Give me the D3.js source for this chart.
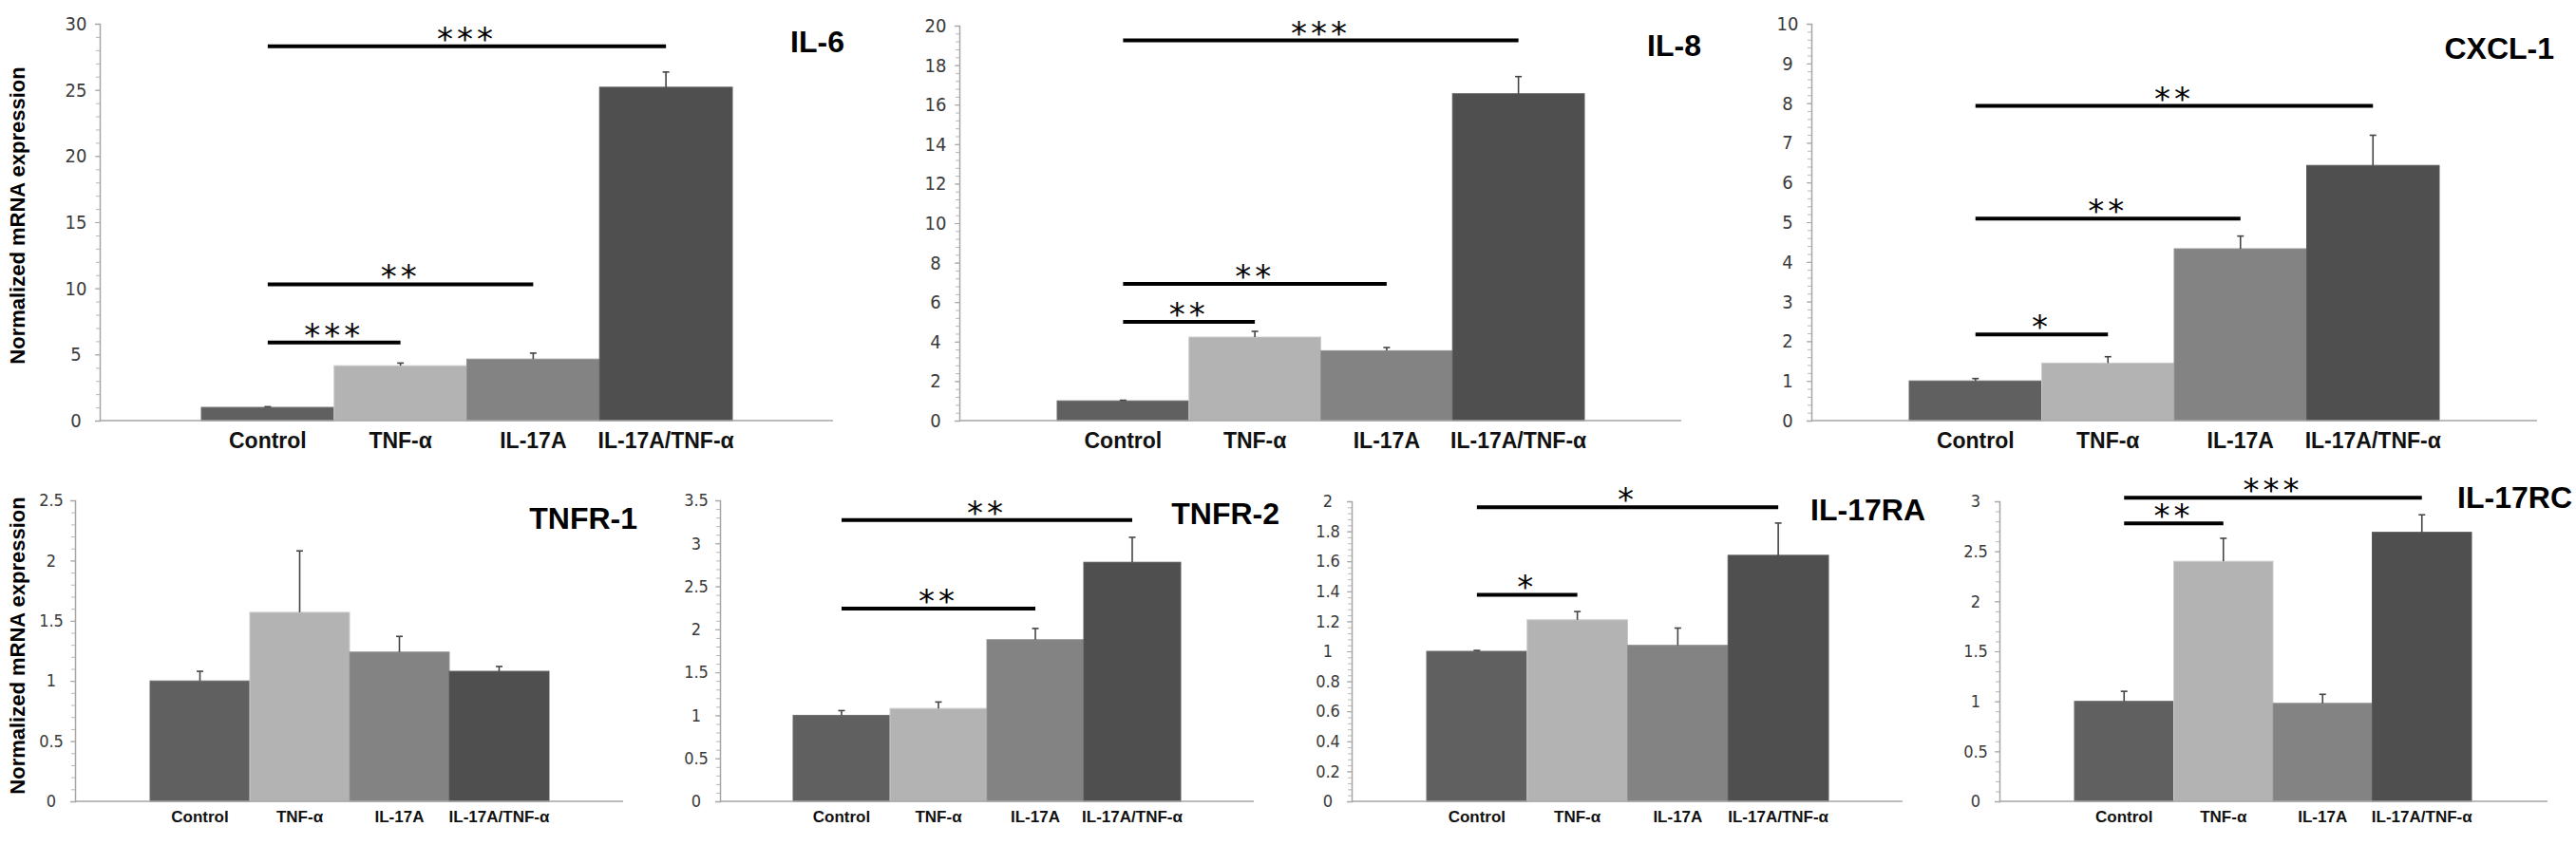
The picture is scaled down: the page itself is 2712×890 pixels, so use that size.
<!DOCTYPE html>
<html>
<head>
<meta charset="utf-8">
<script src="https://cdn.jsdelivr.net/npm/d3@7"></script>
<style>
  html, body { margin: 0; padding: 0; background: #fff; }
  svg { display: block; }
</style>
</head>
<body>
<svg id="chart" width="2712" height="890"></svg>
<script>
// ---------------- data ----------------
const categories = ["Control", "TNF-α", "IL-17A", "IL-17A/TNF-α"];
const barColors = ["#606060", "#b3b3b3", "#838383", "#4f4f4f"];

const panelNames = ["IL-6", "IL-8", "CXCL-1", "TNFR-1", "TNFR-2", "IL-17RA", "IL-17RC"];

const il6Values = [1.0, 4.15, 4.65, 25.2];
const il6Errors = [0.05, 0.2, 0.45, 1.15];
const il8Values = [1.0, 4.23, 3.54, 16.55];
const il8Errors = [0.03, 0.29, 0.16, 0.87];
const cxcl1Values = [1.0, 1.45, 4.33, 6.43];
const cxcl1Errors = [0.06, 0.16, 0.32, 0.76];
const tnfr1Values = [1.0, 1.57, 1.24, 1.08];
const tnfr1Errors = [0.08, 0.51, 0.13, 0.04];
const tnfr2Values = [1.0, 1.08, 1.88, 2.78];
const tnfr2Errors = [0.055, 0.075, 0.13, 0.29];
const il17raValues = [1.0, 1.21, 1.04, 1.64];
const il17raErrors = [0.006, 0.055, 0.115, 0.215];
const il17rcValues = [1.0, 2.4, 0.98, 2.69];
const il17rcErrors = [0.1, 0.23, 0.09, 0.175];

// y-axis maxima and tick steps
const yMaxes = [30, 20, 10, 2.5, 3.5, 2, 3];
const yTickSteps = [5, 2, 1, 0.5, 0.5, 0.2, 0.5];

// significance brackets: [fromIndex, toIndex, level (data units), label]
const il6Sig = [[0, 3, 28.3, "***"], [0, 2, 10.3, "**"], [0, 1, 5.9, "***"]];
const il8Sig = [[0, 3, 19.25, "***"], [0, 2, 6.92, "**"], [0, 1, 5.0, "**"]];
const cxcl1Sig = [[0, 3, 7.93, "**"], [0, 2, 5.09, "**"], [0, 1, 2.17, "*"]];
const tnfr1Sig = [];
const tnfr2Sig = [[0, 3, 3.27, "**"], [0, 2, 2.24, "**"]];
const il17raSig = [[0, 3, 1.96, "*"], [0, 1, 1.377, "*"]];
const il17rcSig = [[0, 3, 3.035, "***"], [0, 1, 2.78, "**"]];

const yAxisTitle = "Normalized mRNA expression";

// ---------------- layout (pixels) ----------------
const layout = [
  { left: 105,  right: 877,  top: 25,  bottom: 443, barsL: 212,  barsR: 771,  titleR: 889,  titleY: 55,  row: 0, ylabel: true },
  { left: 1010, right: 1770, top: 27,  bottom: 443, barsL: 1113, barsR: 1668, titleR: 1791, titleY: 59,  row: 0 },
  { left: 1907, right: 2671, top: 25,  bottom: 443, barsL: 2010, barsR: 2568, titleR: 2689, titleY: 62,  row: 0 },
  { left: 79,   right: 656,  top: 527, bottom: 844, barsL: 158,  barsR: 578,  titleR: 671,  titleY: 557, row: 1, ylabel: true },
  { left: 758,  right: 1320, top: 527, bottom: 844, barsL: 835,  barsR: 1243, titleR: 1347, titleY: 552, row: 1 },
  { left: 1423, right: 2003, top: 528, bottom: 844, barsL: 1502, barsR: 1925, titleR: 2027, titleY: 548, row: 1 },
  { left: 2105, right: 2682, top: 528, bottom: 844, barsL: 2184, barsR: 2602, titleR: 2708, titleY: 535, row: 1 }
];

const allValues = [il6Values, il8Values, cxcl1Values, tnfr1Values, tnfr2Values, il17raValues, il17rcValues];
const allErrors = [il6Errors, il8Errors, cxcl1Errors, tnfr1Errors, tnfr2Errors, il17raErrors, il17rcErrors];
const allSig = [il6Sig, il8Sig, cxcl1Sig, tnfr1Sig, tnfr2Sig, il17raSig, il17rcSig];

const narrow = "'Liberation Sans Narrow', 'DejaVu Sans Condensed', 'Liberation Sans', sans-serif";
const sans = "'Liberation Sans', Arial, sans-serif";

const svg = d3.select("#chart");
svg.append("rect").attr("width", 2712).attr("height", 890).attr("fill", "#fff");

panelNames.forEach((name, i) => {
  const L = layout[i];
  const values = allValues[i], errors = allErrors[i], sig = allSig[i];
  const g = svg.append("g");

  const x = d3.scaleBand().domain(categories).range([L.barsL, L.barsR]).padding(0);
  const y = d3.scaleLinear().domain([0, yMaxes[i]]).range([L.bottom, L.top]);

  const step = yTickSteps[i];
  const nMaj = Math.round(yMaxes[i] / step);
  const majorTicks = d3.range(nMaj + 1).map(k => +(k * step).toFixed(4));
  const minorTicks = d3.range(nMaj * 5 + 1).map(k => +(k * step / 5).toFixed(5));

  // minor ticks
  const minorAxis = g.append("g").attr("transform", `translate(${L.left},0)`)
    .call(d3.axisLeft(y).tickValues(minorTicks).tickSize(4).tickFormat(""));
  minorAxis.select(".domain").remove();
  minorAxis.selectAll("line").attr("stroke", "#b8b8b8").attr("stroke-width", 1);

  // major axis with labels
  const fs = L.row === 0 ? 20 : 18;
  const yAx = g.append("g").attr("transform", `translate(${L.left},0)`)
    .call(d3.axisLeft(y).tickValues(majorTicks).tickSize(5).tickPadding(0)
      .tickFormat(v => String(+v.toFixed(2))));
  yAx.select(".domain").attr("stroke", "#a6a6a6").attr("stroke-width", 1.5);
  yAx.selectAll("line").attr("stroke", "#a6a6a6");
  yAx.selectAll("text")
    .attr("x", -25).attr("text-anchor", "middle")
    .attr("font-family", narrow).attr("font-size", fs).attr("fill", "#3a3a3a");

  // bars
  g.selectAll("rect.bar").data(values).enter().append("rect")
    .attr("class", "bar")
    .attr("x", (d, k) => x(categories[k]))
    .attr("width", x.bandwidth())
    .attr("y", d => y(d))
    .attr("height", d => y(0) - y(d))
    .attr("fill", (d, k) => barColors[k])
    .attr("stroke", (d, k) => d3.color(barColors[k]).brighter(0.35))
    .attr("stroke-width", 1);

  // x axis line
  g.append("line").attr("x1", L.left).attr("x2", L.right)
    .attr("y1", y(0)).attr("y2", y(0))
    .attr("stroke", "#a6a6a6").attr("stroke-width", 1.5);

  // category labels
  const xAx = g.append("g").attr("transform", `translate(0,${y(0)})`)
    .call(d3.axisBottom(x).tickSize(0).tickPadding(L.row === 0 ? 13 : 10));
  xAx.select(".domain").remove();
  xAx.selectAll("text")
    .attr("font-family", sans).attr("font-weight", "bold")
    .attr("font-size", L.row === 0 ? 23 : 17).attr("fill", "#111");

  // error bars (upper only)
  values.forEach((v, k) => {
    const cx = x(categories[k]) + x.bandwidth() / 2;
    const yTop = y(v + errors[k]);
    g.append("line").attr("x1", cx).attr("x2", cx).attr("y1", y(v)).attr("y2", yTop)
      .attr("stroke", "#444").attr("stroke-width", 1.6);
    g.append("line").attr("x1", cx - 3.5).attr("x2", cx + 3.5).attr("y1", yTop).attr("y2", yTop)
      .attr("stroke", "#444").attr("stroke-width", 1.6);
  });

  // significance lines
  sig.forEach(([a, b, lvl, lab]) => {
    const x1 = x(categories[a]) + x.bandwidth() / 2;
    const x2 = x(categories[b]) + x.bandwidth() / 2;
    const yy = y(lvl);
    g.append("line").attr("x1", x1).attr("x2", x2).attr("y1", yy).attr("y2", yy)
      .attr("stroke", "#000").attr("stroke-width", 4);
    g.append("text").attr("x", (x1 + x2) / 2).attr("y", yy + 4)
      .attr("text-anchor", "middle")
      .attr("font-family", "'DejaVu Sans', sans-serif").attr("font-size", 34)
      .attr("letter-spacing", 4)
      .attr("fill", "#000").text(lab);
  });

  // title
  g.append("text").attr("x", L.titleR).attr("y", L.titleY)
    .attr("text-anchor", "end")
    .attr("font-family", sans).attr("font-weight", "bold")
    .attr("font-size", 32).attr("fill", "#000").text(name);

  // y axis title
  if (L.ylabel) {
    const cy = L.row === 0 ? 227 : 680;
    svg.append("text")
      .attr("transform", `translate(26,${cy}) rotate(-90)`)
      .attr("text-anchor", "middle")
      .attr("font-family", sans).attr("font-weight", "bold")
      .attr("font-size", 22).attr("fill", "#000").text(yAxisTitle);
  }
});
</script>
</body>
</html>
